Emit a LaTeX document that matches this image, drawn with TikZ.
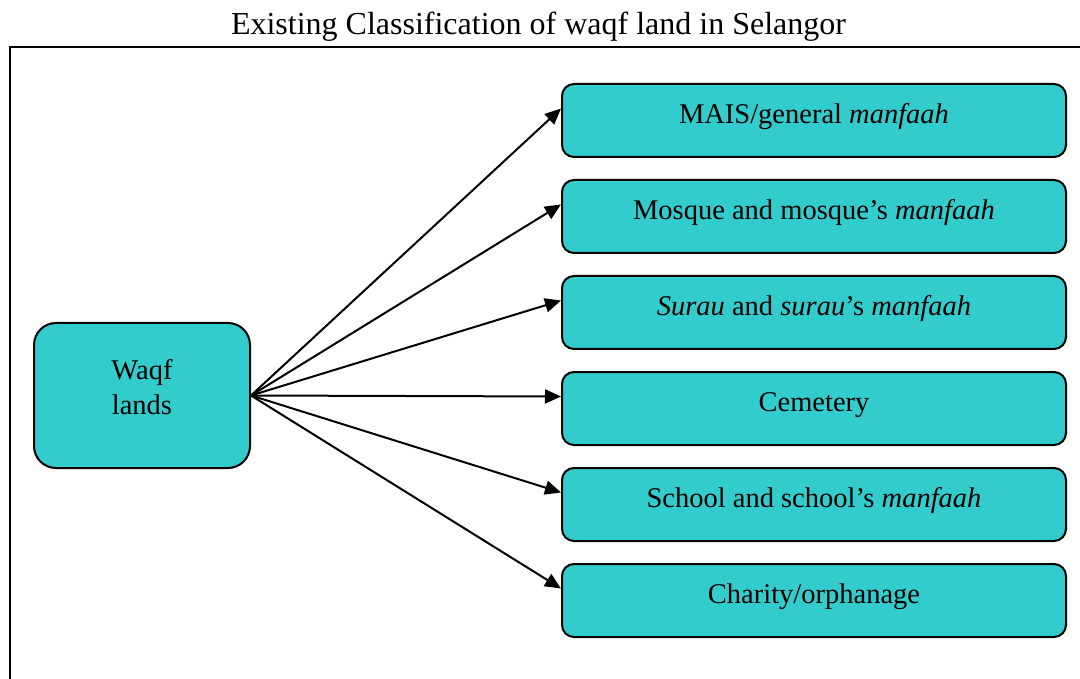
\documentclass[tikz,border=0pt]{standalone}
\usepackage{fontspec}
\setmainfont{Liberation Serif}
\usetikzlibrary{arrows.meta, positioning}
\definecolor{waqfcyan}{HTML}{33CCCC}

\begin{document}
\begin{tikzpicture}[x=1pt, y=-1pt, node distance=21pt,
    catbox/.style={draw, line width=2pt, fill=waqfcyan, rounded corners=12pt,
        minimum width=504pt, minimum height=73pt, inner sep=0pt,
        font=\fontsize{28.5}{35}\selectfont, text height=20pt, text depth=13.6pt},
    landbox/.style={draw, line width=2pt, fill=waqfcyan, rounded corners=22pt,
        minimum width=216pt, minimum height=145pt, inner sep=0pt, align=center,
        font=\fontsize{28.5}{35}\selectfont, text depth=17.5pt},
    arr/.style={-{Triangle[length=16pt,width=14pt]}, line width=2pt}]
    \useasboundingbox (0,0) rectangle (1080,679);
    \draw[line width=2pt] (10,47.5) rectangle (1110,720);
    \node[anchor=base, font=\fontsize{32}{38}\selectfont] (title) at (538.5,34.3) {Existing Classification of waqf land in Selangor};

    \node[landbox] (waqf) at (142,395.5) {Waqf\\lands};

    \node[catbox] (mais) at (814,120.5) {MAIS/general \textit{manfaah}};
    \node[catbox] (mosque) [below=of mais] {Mosque and mosque’s \textit{manfaah}};
    \node[catbox] (surau) [below=of mosque] {\textit{Surau} and \textit{surau}’s \textit{manfaah}};
    \node[catbox] (cemetery) [below=of surau] {Cemetery};
    \node[catbox] (school) [below=of cemetery] {School and school’s \textit{manfaah}};
    \node[catbox] (charity) [below=of school] {Charity/orphanage};

    \draw[arr] (waqf.east) -- ([yshift=12pt]mais.west);
    \draw[arr] (waqf.east) -- ([yshift=12pt]mosque.west);
    \draw[arr] (waqf.east) -- ([yshift=12pt]surau.west);
    \draw[arr] (waqf.east) -- ([yshift=12pt]cemetery.west);
    \draw[arr] (waqf.east) -- ([yshift=12pt]school.west);
    \draw[arr] (waqf.east) -- ([yshift=12pt]charity.west);
\end{tikzpicture}
\end{document}
